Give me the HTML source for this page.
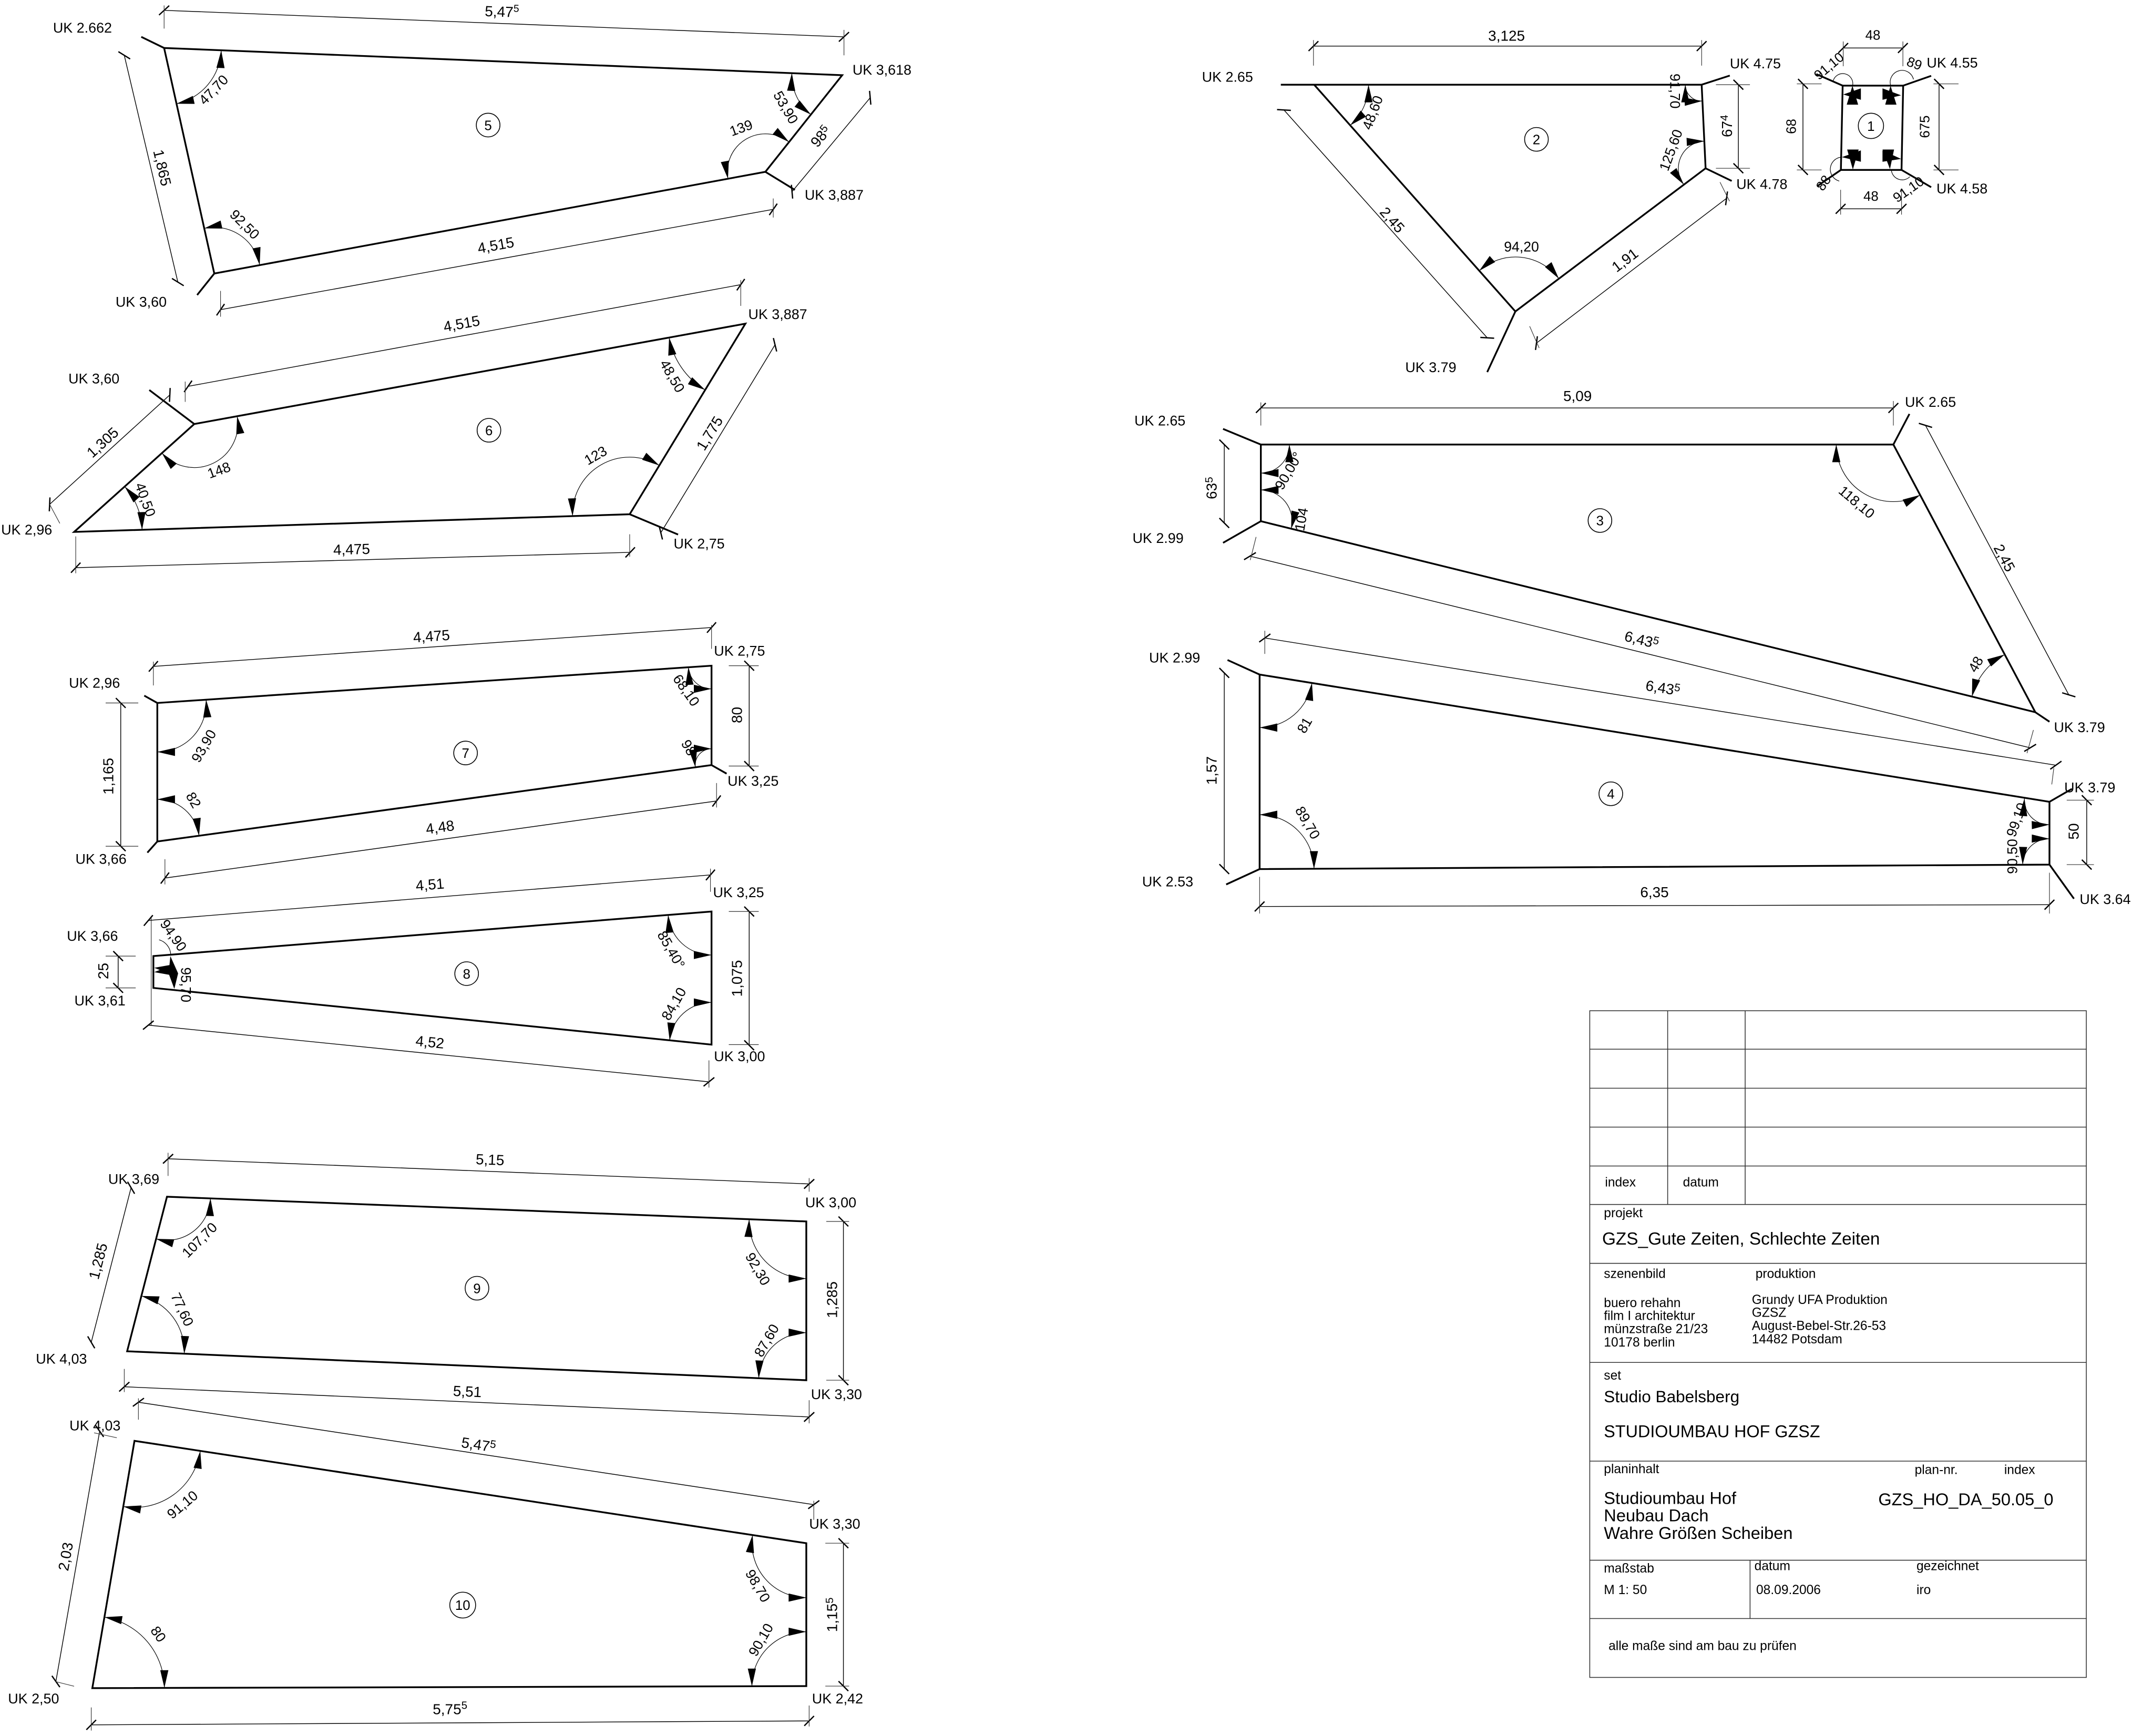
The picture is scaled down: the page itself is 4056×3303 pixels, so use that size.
<!DOCTYPE html>
<html><head><meta charset="utf-8"><style>
html,body{margin:0;padding:0;background:#fff;width:4056px;height:3303px;overflow:hidden}
svg{display:block}
.o{stroke:#000;stroke-width:1.3;fill:none;stroke-linejoin:miter}
.d{stroke:#000;stroke-width:0.55;fill:none}
.w{stroke:#333;stroke-width:0.45;fill:none}
.a{stroke:#000;stroke-width:0.45;fill:none}
.c{stroke:#000;stroke-width:0.6;fill:none}
.tb{stroke:#333;stroke-width:0.6;fill:none}
text{font-family:"Liberation Sans",Arial,sans-serif;fill:#000}
.uk{font-size:10.4px}
.dm{font-size:10.8px}
.an{font-size:10.3px}
.nm{font-size:10px}
.s{font-size:9.5px}
.m{font-size:12.6px}
</style></head><body>
<svg width="4056" height="3303" viewBox="0 0 1568 1277" preserveAspectRatio="none" xmlns="http://www.w3.org/2000/svg">
<defs>
<marker id="tk" markerUnits="userSpaceOnUse" markerWidth="12" markerHeight="12" refX="6" refY="6" orient="auto" overflow="visible"><path d="M2.4,9.6 L9.6,2.4" stroke="#000" stroke-width="0.95"/></marker>
<marker id="ar" markerUnits="userSpaceOnUse" markerWidth="15" markerHeight="9" refX="13" refY="3" orient="auto-start-reverse" overflow="visible"><path d="M0,0 L13,3 L0,6 Z" fill="#000"/></marker>
</defs>
<rect width="1568" height="1277" fill="#fff"/>

<!-- ================= PANEL 5 ================= -->
<polygon class="o" points="120.7,35.3 619.4,55.3 562.9,126.4 157.6,201.2"/>
<path class="o" d="M103.9,27.1 L120.7,35.3 M157.6,201.2 L145,217 M562.9,126.4 L584.6,139.7"/>
<g class="d" marker-start="url(#tk)" marker-end="url(#tk)">
<path d="M120.7,7.6 L620.7,27.1"/>
<path d="M91.4,40.7 L130.8,207.5"/>
<path d="M162.2,227.8 L568.7,154"/>
<path d="M640,71.9 L582.5,141"/>
</g>
<path class="w" d="M120.7,4 V21 M620.7,22 V40.7 M162.2,214 V233 M568.7,146 V160"/>
<g class="a" marker-start="url(#ar)" marker-end="url(#ar)">
<path d="M162.7,37.0 A42,42 0 0 1 129.8,76.3"/>
<path d="M582.4,53.8 A37,37 0 0 0 596.4,84.3"/>
<path d="M580.3,104.5 A28,28 0 0 0 535.4,131.5"/>
<path d="M191.0,195.0 A34,34 0 0 0 150.2,168.0"/>
</g>
<circle class="c" cx="359" cy="92" r="8.7"/>
<text class="nm" x="359" y="95.6" text-anchor="middle">5</text>
<g class="dm" text-anchor="middle">
<text transform="translate(369,12.3) rotate(2.2)">5,47<tspan dy="-4" font-size="7.5">5</tspan></text>
<text transform="translate(119.4,123.4) rotate(76.7)" dy="0.35em">1,865</text>
<text transform="translate(364.6,180.3) rotate(-10.3)" dy="0.35em">4,515</text>
<text transform="translate(603.5,100.3) rotate(-50.2)" dy="0.35em">98<tspan dy="-3" font-size="8">5</tspan></text>
</g>
<g class="an" text-anchor="middle">
<text transform="translate(157,66) rotate(-46)" dy="0.35em">47,70</text>
<text transform="translate(578,79) rotate(60)" dy="0.35em">53,90</text>
<text transform="translate(545,94) rotate(-20)" dy="0.35em">139</text>
<text transform="translate(180,165) rotate(45)" dy="0.35em">92,50</text>
</g>
<g class="uk">
<text x="39" y="23.9">UK 2.662</text>
<text x="627" y="55">UK 3,618</text>
<text x="591.8" y="147">UK 3,887</text>
<text x="85" y="225.6">UK 3,60</text>
</g>

<!-- ================= PANEL 6 ================= -->
<polygon class="o" points="142.9,311.9 548.2,238.1 463.1,378.3 54.5,391.3"/>
<path class="o" d="M142.9,311.9 L109.8,286.9 M463.1,378.3 L498.7,393.2"/>
<g class="d" marker-start="url(#tk)" marker-end="url(#tk)">
<path d="M138.3,284.2 L544.8,209.4"/>
<path d="M124.9,290.5 L36.5,371"/>
<path d="M570,253.6 L486,391.9"/>
<path d="M55.7,417.6 L463.5,406.3"/>
</g>
<path class="w" d="M136.2,280.7 V295.6 M544.8,206 V225 M55.7,394.6 V421.7 M463.1,393 V409.5 M36.5,371 L44,385"/>
<g class="a" marker-start="url(#ar)" marker-end="url(#ar)">
<path d="M492.1,248.3 A57,57 0 0 0 518.6,286.8"/>
<path d="M174.4,306.2 A32,32 0 0 1 119.1,333.3"/>
<path d="M484.9,342.4 A42,42 0 0 0 421.1,379.6"/>
<path d="M91.7,357.9 A50,50 0 0 1 104.5,389.7"/>
</g>
<circle class="c" cx="359.6" cy="316.5" r="8.7"/>
<text class="nm" x="359.6" y="320.1" text-anchor="middle">6</text>
<g class="dm" text-anchor="middle">
<text transform="translate(339.5,238) rotate(-10.4)" dy="0.35em">4,515</text>
<text transform="translate(75.4,325.4) rotate(-42.2)" dy="0.35em">1,305</text>
<text transform="translate(521.8,318.7) rotate(-58.7)" dy="0.35em">1,775</text>
<text transform="translate(258.6,404) rotate(-1.6)" dy="0.35em">4,475</text>
</g>
<g class="an" text-anchor="middle">
<text transform="translate(494.5,276.6) rotate(60)" dy="0.35em">48,50</text>
<text transform="translate(161,345.8) rotate(-20)" dy="0.35em">148</text>
<text transform="translate(438,335) rotate(-30)" dy="0.35em">123</text>
<text transform="translate(107,367.5) rotate(70)" dy="0.35em">40,50</text>
</g>
<g class="uk">
<text x="550.3" y="234.6">UK 3,887</text>
<text x="50.3" y="282">UK 3,60</text>
<text x="0.8" y="393.2">UK 2,96</text>
<text x="495.4" y="403.5">UK 2,75</text>
</g>

<!-- ================= PANEL 2 ================= -->
<polygon class="o" points="966.5,62.3 1251.5,62.3 1254.4,123.8 1114.5,229.1"/>
<path class="o" d="M942,62.3 L966.5,62.3 M1251.5,62.3 L1272.2,55.6 M1254.4,123.8 L1273.6,133.1 M1114.5,229.1 L1093.8,273.7"/>
<g class="d" marker-start="url(#tk)" marker-end="url(#tk)">
<path d="M966,33.9 L1251.5,33.9"/>
<path d="M944.3,80.9 L1093.8,248.5"/>
<path d="M1269.8,145.9 L1130,252.4"/>
<path d="M1278.5,62.3 L1278.5,123.8"/>
</g>
<path class="w" d="M966,29.5 V48.3 M1251.5,29.5 V48.3 M1125,240 L1132,256 M1265,134 L1272,148 M1262,62.3 H1287 M1262,123.8 H1287"/>
<g class="a" marker-start="url(#ar)" marker-end="url(#ar)">
<path d="M1006.5,62.3 A40,40 0 0 1 993.0,92.2"/>
<path d="M1239.5,62.3 A12,12 0 0 0 1252,74.3"/>
<path d="M1253.5,103.8 A20,20 0 0 0 1238.4,135.8"/>
<path d="M1087.9,199.2 A40,40 0 0 1 1146.5,205.0"/>
</g>
<circle class="c" cx="1130" cy="102.5" r="8.7"/>
<text class="nm" x="1130" y="106.1" text-anchor="middle">2</text>
<g class="dm" text-anchor="middle">
<text x="1108" y="30">3,125</text>
<text transform="translate(1024,161.7) rotate(48.3)" dy="0.35em">2,45</text>
<text transform="translate(1195,191.3) rotate(-37.3)" dy="0.35em">1,91</text>
<text transform="translate(1270,92.7) rotate(-90)" dy="0.35em">67<tspan dy="-3" font-size="8">4</tspan></text>
</g>
<g class="an" text-anchor="middle">
<text transform="translate(1009.4,82.8) rotate(-69.5)" dy="0.35em">48,60</text>
<text transform="translate(1232,67) rotate(90)" dy="0.35em">91,70</text>
<text transform="translate(1228.8,110.4) rotate(-70)" dy="0.35em">125,60</text>
<text x="1119" y="185">94,20</text>
</g>
<g class="uk">
<text x="884" y="60.1">UK 2.65</text>
<text x="1272.2" y="50.3">UK 4.75</text>
<text x="1277" y="139">UK 4.78</text>
<text x="1033.5" y="273.7">UK 3.79</text>
</g>

<!-- ================= PANEL 1 ================= -->
<polygon class="o" points="1355.2,63 1399.7,63 1398.5,125 1353.9,125"/>
<path class="o" d="M1355.2,63 L1335.8,54.5 M1399.7,63 L1420.3,55.8 M1353.9,125 L1336.4,137 M1398.5,125 L1420.3,137.7"/>
<g class="d" marker-start="url(#tk)" marker-end="url(#tk)">
<path d="M1355.6,35.3 L1399.5,35.3"/>
<path d="M1353.7,153.6 L1398.5,153.6"/>
<path d="M1326,61.7 L1326,125"/>
<path d="M1426.1,61.7 L1426.1,125"/>
</g>
<path class="w" d="M1355.6,30.5 V48.7 M1399.5,30.5 V48.7 M1353.7,139.6 V157.9 M1398.5,139.6 V157.9 M1321.5,61.7 H1339.7 M1321.5,125 H1339.7 M1422,61.7 H1440.4 M1422,125 H1440.4"/>
<path class="a" d="M1348.1,60 A7.2,7.2 0 0 1 1362.5,63 M1390.4,62.5 A8.5,8.5 0 0 1 1407.3,58.4 M1354,115.6 A9,9 0 0 0 1352.7,133.2 M1391,125 A8,8 0 0 0 1404.6,130"/>
<g fill="#000">
<polygon points="1362.4,63 1358.2,77 1366.6,77"/>
<polygon points="1355.6,69.5 1368.6,65 1368.6,73.4"/>
<polygon points="1390.4,63 1386.5,77 1394.8,77"/>
<polygon points="1398.2,70.1 1384.5,65 1384.5,73.4"/>
<polygon points="1362.7,124.7 1358.5,110 1367,110"/>
<polygon points="1354.6,115.6 1368.6,110.6 1368.6,119"/>
<polygon points="1390,124.4 1384.5,110 1393,110"/>
<polygon points="1398.2,116.9 1384.5,110.6 1384.5,119"/>
</g>
<circle class="c" cx="1376" cy="92.6" r="9.3"/>
<text class="nm" x="1376" y="96.2" text-anchor="middle">1</text>
<g class="nm" text-anchor="middle">
<text x="1377.4" y="29.2">48</text>
<text x="1376" y="147.7">48</text>
<text transform="translate(1317.3,93) rotate(-90)" dy="0.35em">68</text>
<text transform="translate(1415.5,93.2) rotate(-90)" dy="0.35em">675</text>
<text transform="translate(1345,48.5) rotate(-40)" dy="0.35em">91,10</text>
<text transform="translate(1408,46.6) rotate(20)" dy="0.35em">89</text>
<text transform="translate(1341,134.5) rotate(-55)" dy="0.35em">88</text>
<text transform="translate(1403.5,139.3) rotate(-35)" dy="0.35em">91,10</text>
</g>
<g class="uk">
<text x="1417" y="49.6">UK 4.55</text>
<text x="1424.2" y="142.3">UK 4.58</text>
</g>

<!-- ================= PANEL 3 ================= -->
<polygon class="o" points="927.3,327 1392.5,327 1496.9,523.9 927.3,383.4"/>
<path class="o" d="M927.3,327 L899.5,315.5 M927.3,383.4 L899.5,399.3 M1392.5,327 L1404.3,304.5 M1496.9,523.9 L1507.3,530.9"/>
<g class="d" marker-start="url(#tk)" marker-end="url(#tk)">
<path d="M927.3,300.1 L1392.5,300.1"/>
<path d="M900.4,327 L900.4,384.7"/>
<path d="M1416.1,312.9 L1521.5,511.1"/>
<path d="M919.3,409.1 L1493.1,550.1"/>
</g>
<path class="w" d="M927.3,296 V313 M1392.5,295 V313 M923.8,395 L919.5,412 M1495.5,537 L1490.8,554"/>
<g class="a" marker-start="url(#ar)" marker-end="url(#ar)">
<path d="M948.3,327 A21,21 0 0 1 927.3,348"/>
<path d="M927.3,360.4 A23,23 0 0 1 949.6,388.9"/>
<path d="M1350.5,327 A42,42 0 0 0 1412.2,364.1"/>
<path d="M1474.4,481.5 A48,48 0 0 0 1450.3,512.4"/>
</g>
<circle class="c" cx="1176.7" cy="382.9" r="8.7"/>
<text class="nm" x="1176.7" y="386.5" text-anchor="middle">3</text>
<g class="dm" text-anchor="middle">
<text x="1160.2" y="295">5,09</text>
<text transform="translate(891,359) rotate(-90)" dy="0.35em">63<tspan dy="-3" font-size="8">5</tspan></text>
<text transform="translate(1474.2,410.4) rotate(62)" dy="0.35em">2,45</text>
<text transform="translate(1207.4,470.6) rotate(13.8)" dy="0.35em">6,43<tspan dy="-3" font-size="8">5</tspan></text>
</g>
<g class="an" text-anchor="middle">
<text transform="translate(947.6,346.3) rotate(-60)" dy="0.35em">90,00°</text>
<text transform="translate(957,382) rotate(-80)" dy="0.35em">104</text>
<text transform="translate(1365.6,369.3) rotate(40)" dy="0.35em">118,10</text>
<text transform="translate(1453,488.6) rotate(-60)" dy="0.35em">48</text>
</g>
<g class="uk">
<text x="834.3" y="312.9">UK 2.65</text>
<text x="832.9" y="399.3">UK 2.99</text>
<text x="1401" y="299.3">UK 2.65</text>
<text x="1510.6" y="538.6">UK 3.79</text>
</g>

<!-- ================= PANEL 4 ================= -->
<polygon class="o" points="926.4,496.2 1507.3,589.8 1507.3,636 926.4,639.3"/>
<path class="o" d="M926.4,496.2 L902.8,485.5 M926.4,639.3 L901.8,650.6 M1507.3,589.8 L1523.8,580.3 M1507.3,636 L1525.3,661.1"/>
<g class="d" marker-start="url(#tk)" marker-end="url(#tk)">
<path d="M930.2,469.3 L1512,562.9"/>
<path d="M900.4,495 L900.4,639.3"/>
<path d="M1534.7,588.6 L1534.7,636"/>
<path d="M926.4,666.8 L1507.3,665.5"/>
</g>
<path class="w" d="M930.2,464 V481 M1510.5,565 L1509,577 M1520,588.6 H1540 M1520,636 H1540 M926.4,645 V672 M1507.3,642 V672"/>
<g class="a" marker-start="url(#ar)" marker-end="url(#ar)">
<path d="M964.9,502.4 A39,39 0 0 1 926.4,535.2"/>
<path d="M926.4,599.3 A40,40 0 0 1 966.4,639.1"/>
<path d="M1488.9,587.3 A18,18 0 0 0 1507.3,606.6"/>
<path d="M1507.3,617 A19.5,19.5 0 0 0 1487.6,636"/>
</g>
<circle class="c" cx="1184.7" cy="583.9" r="8.7"/>
<text class="nm" x="1184.7" y="587.5" text-anchor="middle">4</text>
<g class="dm" text-anchor="middle">
<text transform="translate(1223,506) rotate(9.1)" dy="0.35em">6,43<tspan dy="-3" font-size="8">5</tspan></text>
<text transform="translate(891,566.8) rotate(-90)" dy="0.35em">1,57</text>
<text transform="translate(1525,611.6) rotate(-90)" dy="0.35em">50</text>
<text x="1216.8" y="660">6,35</text>
</g>
<g class="an" text-anchor="middle">
<text transform="translate(959.4,533.4) rotate(-60)" dy="0.35em">81</text>
<text transform="translate(961.8,605.2) rotate(60)" dy="0.35em">89,70</text>
<text transform="translate(1483,603) rotate(-70)" dy="0.35em">99,10</text>
<text transform="translate(1480,630) rotate(-90)" dy="0.35em">90,50</text>
</g>
<g class="uk">
<text x="845.1" y="487.3">UK 2.99</text>
<text x="840" y="652.1">UK 2.53</text>
<text x="1518.2" y="582.9">UK 3.79</text>
<text x="1529.5" y="665">UK 3.64</text>
</g>

<!-- ================= PANEL 7 ================= -->
<polygon class="o" points="115.7,517.1 523.3,489.7 523.3,562.8 115.7,619"/>
<path class="o" d="M115.7,517.1 L106.1,511.7 M115.7,619 L108.4,627.2 M523.3,562.8 L534.4,569.1"/>
<g class="d" marker-start="url(#tk)" marker-end="url(#tk)">
<path d="M112.8,490.2 L523.3,461.6"/>
<path d="M88.8,517.1 L88.8,622.5"/>
<path d="M551,489.7 L551,563.5"/>
<path d="M121.3,645.9 L527,589.2"/>
</g>
<path class="w" d="M112.8,486.7 V504.2 M523.3,459.7 V477.3 M77.7,517.1 H101.7 M77.7,622.5 H101.7 M536,489.7 H558 M536,563.5 H558 M121.3,632 V650.6 M527,576 V594"/>
<g class="a" marker-start="url(#ar)" marker-end="url(#ar)">
<path d="M151.6,514.7 A36,36 0 0 1 115.7,553.1"/>
<path d="M115.7,588 A31,31 0 0 1 146.4,614.8"/>
<path d="M506.3,490.8 A17,17 0 0 0 523.3,506.7"/>
<path d="M523.3,550.8 A12,12 0 0 0 511.4,564.4"/>
</g>
<circle class="c" cx="342.4" cy="553.9" r="8.7"/>
<text class="nm" x="342.4" y="557.5" text-anchor="middle">7</text>
<g class="dm" text-anchor="middle">
<text transform="translate(317.3,467.9) rotate(-4)" dy="0.35em">4,475</text>
<text transform="translate(79.5,571) rotate(-90)" dy="0.35em">1,165</text>
<text transform="translate(541.8,526) rotate(-90)" dy="0.35em">80</text>
<text transform="translate(323.6,608.4) rotate(-8)" dy="0.35em">4,48</text>
</g>
<g class="an" text-anchor="middle">
<text transform="translate(149.8,548.7) rotate(-60)" dy="0.35em">93,90</text>
<text transform="translate(142.4,588.5) rotate(60)" dy="0.35em">82</text>
<text transform="translate(504.8,507.7) rotate(55)" dy="0.35em">68,10</text>
<text transform="translate(506.6,549.9) rotate(60)" dy="0.35em">98</text>
</g>
<g class="uk">
<text x="50.7" y="505.9">UK 2,96</text>
<text x="525.1" y="482.4">UK 2,75</text>
<text x="535.1" y="578">UK 3,25</text>
<text x="55.5" y="635.4">UK 3,66</text>
</g>

<!-- ================= PANEL 8 ================= -->
<polygon class="o" points="112.8,703.3 523.3,670.5 523.3,768.4 112.8,726.7"/>
<path class="w" d="M111.2,674 L111.2,754"/>
<g class="d" marker-start="url(#tk)" marker-end="url(#tk)">
<path d="M109.1,677.1 L522.5,643.6"/>
<path d="M86.9,703.3 L86.9,726.7"/>
<path d="M551,670.5 L551,768.9"/>
<path d="M109.1,754.1 L521.4,795.8"/>
</g>
<path class="w" d="M522.5,639 V656 M77.7,703.3 H99.8 M77.7,726.7 H99.8 M536,670.5 H558 M536,768.4 H558 M521.4,780 V800"/>
<g class="a" marker-start="url(#ar)" marker-end="url(#ar)">
<path d="M491.4,673.1 A32,32 0 0 0 523.3,702.5"/>
<path d="M523.3,737.4 A31,31 0 0 0 492.5,765.3"/>
</g>
<path class="a" d="M117,691.3 A12,12 0 0 1 125.6,702.2"/>
<g fill="#000">
<path d="M125.3,703.3 L131,716 L128.2,727.4 L124,716 Z"/>
<path d="M113.4,711.9 L127,709.5 L127,717.5 L113.4,715.1 L117.5,713.5 Z"/>
</g>
<circle class="c" cx="343.2" cy="716.2" r="8.7"/>
<text class="nm" x="343.2" y="719.8" text-anchor="middle">8</text>
<g class="dm" text-anchor="middle">
<text transform="translate(316.2,650.6) rotate(-4.6)" dy="0.35em">4,51</text>
<text transform="translate(75.8,714.3) rotate(-90)" dy="0.35em">25</text>
<text transform="translate(541.8,719.7) rotate(-90)" dy="0.35em">1,075</text>
<text transform="translate(316.2,766.5) rotate(5.8)" dy="0.35em">4,52</text>
</g>
<g class="an" text-anchor="middle">
<text transform="translate(127.6,688) rotate(55)" dy="0.35em">94,90</text>
<text transform="translate(136.8,724.4) rotate(90)" dy="0.35em">95,70</text>
<text transform="translate(493.7,698.6) rotate(60)" dy="0.35em">85,40°</text>
<text transform="translate(495.5,738.4) rotate(-60)" dy="0.35em">84,10</text>
</g>
<g class="uk">
<text x="524.4" y="660">UK 3,25</text>
<text x="49.2" y="692">UK 3,66</text>
<text x="54.7" y="739.6">UK 3,61</text>
<text x="525.1" y="780.6">UK 3,00</text>
</g>

<!-- ================= PANEL 9 ================= -->
<polygon class="o" points="122.8,880.3 593,898.5 593,1015.3 93.5,994"/>
<g class="d" marker-start="url(#tk)" marker-end="url(#tk)">
<path d="M123.6,852.4 L595.1,870.9"/>
<path d="M96.4,873.7 L67.1,987.4"/>
<path d="M620.3,898.5 L620.3,1015.3"/>
<path d="M91.4,1020.1 L595.1,1042.3"/>
</g>
<path class="w" d="M123.6,848 V865 M595.1,866.6 V876.6 M607.7,898.5 H624.5 M607.7,1015.3 H624.5 M91.4,1007 V1024 M595.1,1030 V1047"/>
<g class="a" marker-start="url(#ar)" marker-end="url(#ar)">
<path d="M154.8,881.5 A32,32 0 0 1 114.8,911.3"/>
<path d="M104.0,953.3 A42,42 0 0 1 135.5,995.8"/>
<path d="M551.0,896.9 A42,42 0 0 0 593,940.5"/>
<path d="M593,980.3 A35,35 0 0 0 558.0,1013.8"/>
</g>
<circle class="c" cx="350.8" cy="947.6" r="8.7"/>
<text class="nm" x="350.8" y="951.2" text-anchor="middle">9</text>
<g class="dm" text-anchor="middle">
<text transform="translate(360.4,853) rotate(2.2)" dy="0.35em">5,15</text>
<text transform="translate(72.1,927.7) rotate(-75.5)" dy="0.35em">1,285</text>
<text transform="translate(611.9,956.1) rotate(-90)" dy="0.35em">1,285</text>
<text transform="translate(343.7,1023.5) rotate(2.5)" dy="0.35em">5,51</text>
</g>
<g class="an" text-anchor="middle">
<text transform="translate(146.7,912.1) rotate(-45)" dy="0.35em">107,70</text>
<text transform="translate(134.1,963.2) rotate(65)" dy="0.35em">77,60</text>
<text transform="translate(557.4,933.4) rotate(60)" dy="0.35em">92,30</text>
<text transform="translate(563.7,986) rotate(-60)" dy="0.35em">87,60</text>
</g>
<g class="uk">
<text x="79.6" y="870.9">UK 3,69</text>
<text x="592.2" y="888">UK 3,00</text>
<text x="26.4" y="1003">UK 4,03</text>
<text x="596.4" y="1029.2">UK 3,30</text>
</g>

<!-- ================= PANEL 10 ================= -->
<polygon class="o" points="98.9,1059.9 593,1135.2 593,1240.3 67.9,1241.8"/>
<g class="d" marker-start="url(#tk)" marker-end="url(#tk)">
<path d="M101.8,1031.5 L598.5,1106.8"/>
<path d="M73.3,1052.8 L41.1,1236.9"/>
<path d="M620.3,1135.2 L620.3,1240.3"/>
<path d="M67.1,1268.8 L595.1,1265.9"/>
</g>
<path class="w" d="M101.8,1028.6 V1044.3 M598.5,1104 V1118 M69.2,1054 L85.9,1057.6 M41,1237 L54.5,1240.4 M607,1135.2 H624.5 M607,1240.3 H624.5 M67.1,1256 V1273 M595.1,1254.6 V1270"/>
<g class="a" marker-start="url(#ar)" marker-end="url(#ar)">
<path d="M147.3,1067.3 A49,49 0 0 1 90.7,1108.2"/>
<path d="M76.8,1189.6 A53,53 0 0 1 120.9,1241.6"/>
<path d="M553.5,1129.2 A40,40 0 0 0 593,1175.2"/>
<path d="M593,1200.3 A40,40 0 0 0 553,1240.4"/>
</g>
<circle class="c" cx="340.3" cy="1180.7" r="9.5"/>
<text class="nm" x="340.3" y="1184.3" text-anchor="middle">10</text>
<g class="dm" text-anchor="middle">
<text transform="translate(352,1062.7) rotate(8.6)" dy="0.35em">5,47<tspan dy="-3" font-size="8">5</tspan></text>
<text transform="translate(48.2,1145) rotate(-80)" dy="0.35em">2,03</text>
<text transform="translate(611.9,1187.8) rotate(-90)" dy="0.35em">1,15<tspan dy="-3" font-size="8">5</tspan></text>
<text x="331" y="1261">5,75<tspan dy="-4" font-size="8">5</tspan></text>
</g>
<g class="an" text-anchor="middle">
<text transform="translate(134.1,1106.8) rotate(-40)" dy="0.35em">91,10</text>
<text transform="translate(116.5,1202) rotate(55)" dy="0.35em">80</text>
<text transform="translate(557.4,1166.5) rotate(60)" dy="0.35em">98,70</text>
<text transform="translate(559.5,1206.2) rotate(-60)" dy="0.35em">90,10</text>
</g>
<g class="uk">
<text x="51.1" y="1052.2">UK 4,03</text>
<text x="595.1" y="1124.4">UK 3,30</text>
<text x="5.9" y="1253.1">UK 2,50</text>
<text x="597.2" y="1253.1">UK 2,42</text>
</g>

<!-- ================= TITLE BLOCK ================= -->
<rect class="tb" x="1169.2" y="743.5" width="365.2" height="490.4"/>
<path class="tb" d="M1169.2,771.8 H1534.4 M1169.2,800.5 H1534.4 M1169.2,829.1 H1534.4 M1169.2,857.7 H1534.4 M1169.2,886 H1534.4 M1169.2,929.3 H1534.4 M1169.2,1002.2 H1534.4 M1169.2,1074.8 H1534.4 M1169.2,1147.7 H1534.4 M1169.2,1190.6 H1534.4 M1226.5,743.5 V886 M1283.5,743.5 V886 M1287.1,1147.7 V1190.6"/>
<g class="s">
<text x="1180.4" y="872.7">index</text>
<text x="1237.7" y="872.7">datum</text>
<text x="1179.6" y="895.5">projekt</text>
<text x="1179.6" y="940.1">szenenbild</text>
<text x="1291.1" y="940.1">produktion</text>
<text x="1179.6" y="961.5">buero rehahn</text>
<text x="1179.6" y="971">film I architektur</text>
<text x="1179.6" y="980.7">münzstraße 21/23</text>
<text x="1179.6" y="990.5">10178 berlin</text>
<text x="1288.4" y="959.3">Grundy UFA Produktion</text>
<text x="1288.4" y="968.7">GZSZ</text>
<text x="1288.4" y="978.4">August-Bebel-Str.26-53</text>
<text x="1288.4" y="988.2">14482 Potsdam</text>
<text x="1179.6" y="1014.9">set</text>
<text x="1179.6" y="1083.6">planinhalt</text>
<text x="1408.2" y="1084.2">plan-nr.</text>
<text x="1474" y="1084.2">index</text>
<text x="1179.6" y="1156.8">maßstab</text>
<text x="1290.3" y="1155.1">datum</text>
<text x="1409.5" y="1155.1">gezeichnet</text>
<text x="1179.6" y="1172.7">M 1: 50</text>
<text x="1291.6" y="1172.7">08.09.2006</text>
<text x="1409.5" y="1172.7">iro</text>
<text x="1183" y="1213.7">alle maße sind am bau zu prüfen</text>
</g>
<g class="m">
<text x="1178.3" y="915.6" font-size="12.9">GZS_Gute Zeiten, Schlechte Zeiten</text>
<text x="1179.6" y="1031.5" font-size="12.2">Studio Babelsberg</text>
<text x="1179.6" y="1057.2" font-size="12.5">STUDIOUMBAU HOF GZSZ</text>
<text x="1179.6" y="1106.3">Studioumbau Hof</text>
<text x="1179.6" y="1119">Neubau Dach</text>
<text x="1179.6" y="1132">Wahre Größen Scheiben</text>
<text x="1381.4" y="1107.3">GZS_HO_DA_50.05_0</text>
</g>
</svg>
</body></html>
